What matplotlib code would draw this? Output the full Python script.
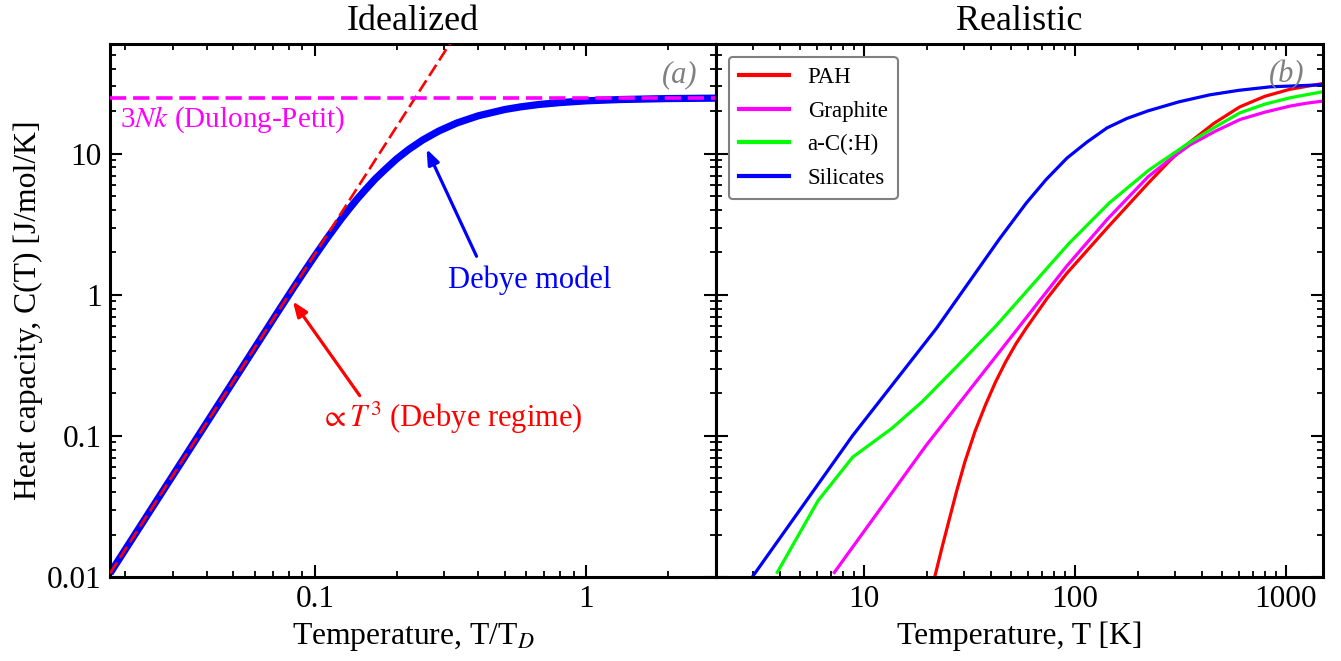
import matplotlib

matplotlib.use("Agg")
import matplotlib.pyplot as plt
from matplotlib.ticker import FuncFormatter, NullFormatter, LogLocator

plt.rcParams['font.family'] = ['Liberation Serif', 'DejaVu Serif']
plt.rcParams['mathtext.fontset'] = 'stix'

# --- Idealized panel: Debye model, C in J/mol/K against T/T_D ---
debye_t = [0.0176, 0.0667, 0.0714, 0.0769, 0.0833, 0.0909, 0.1, 0.1111, 0.125,
           0.1333, 0.1429, 0.1538, 0.1667, 0.1818, 0.2, 0.2222, 0.25, 0.2857,
           0.3333, 0.4, 0.5, 0.5714, 0.6667, 0.8, 1.0, 1.333, 2.0, 3.0]
debye_c = [0.0106, 0.576, 0.707, 0.881, 1.117, 1.439, 1.890, 2.531, 3.447,
           4.035, 4.761, 5.587, 6.624, 7.769, 9.193, 10.77, 12.55, 14.48,
           16.53, 18.60, 20.59, 21.50, 22.35, 23.07, 23.74, 24.25, 24.63, 24.80]
# low-temperature T^3 asymptote
t3_t = [0.0176, 0.32]
t3_c = [0.0106, 63.7]
dulong_petit = 24.94

# --- Realistic panel: T in K, C in J/mol/K ---
pah_t = [21.78, 23.47, 25.27, 27.63, 30.19, 33.76, 37.74, 42.18, 47.13, 52.66,
         58.85, 73.48, 91.78, 143.2, 223.4, 279.8, 347.8, 456.6, 606, 795.7,
         1044.5, 1500]
pah_c = [0.0101, 0.0159, 0.0244, 0.0408, 0.0653, 0.108, 0.1647, 0.2408, 0.3351, 0.4484,
         0.578, 0.929, 1.42, 3.0, 6.2, 8.82, 11.94, 16.42, 21.51, 25.54,
         28.64, 31.5]

graphite_t = [7.278, 19.79, 53.83, 91.78, 143.2, 223.4, 279.8, 351.6, 461.6, 606,
              795.7, 1044.5, 1243, 1500]
graphite_c = [0.01078, 0.0856, 0.578, 1.6, 3.45, 6.9, 9.03, 11.55, 14.4, 17.48,
              19.72, 21.76, 22.78, 23.65]

ach_t = [3.904, 6.094, 8.891, 13.56, 18.92, 27.65, 42.18, 60.95, 94.2, 145.6,
         225, 347.8, 461.6, 606, 795.7, 1044.5, 1500]
ach_c = [0.01078, 0.03479, 0.07079, 0.1125, 0.1742, 0.3103, 0.5971, 1.112, 2.323,
         4.47, 7.67, 11.94, 15.43, 19.50, 22.48, 24.92, 27.55]

sil_t = [2.987, 8.87, 22.14, 43.95, 58.98, 73.3, 92.1, 114.6, 142.4, 177.1, 222.6,
         312, 437.1, 599.6, 849, 1500]
sil_c = [0.0101, 0.1003, 0.578, 2.48, 4.47, 6.57, 9.34, 12.13, 15.26, 17.82, 20.15,
         23.35, 26.18, 28.18, 29.85, 30.85]

materials = [
    ('PAH', pah_t, pah_c, '#ff0000'),
    ('Graphite', graphite_t, graphite_c, '#ff00ff'),
    ('a-C(:H)', ach_t, ach_c, '#00ff00'),
    ('Silicates', sil_t, sil_c, '#0000ff'),
]

YLIM = (0.01, 60)
fmt = FuncFormatter(lambda v, p: f'{v:g}')


def style_axis(ax):
    ax.set_xscale('log')
    ax.set_yscale('log')
    ax.set_ylim(*YLIM)
    ax.tick_params(which='both', direction='in', top=True, right=True)
    ax.tick_params(which='major', length=8.5, width=1.5, labelsize=22.5, pad=6)
    ax.tick_params(which='minor', length=4.5, width=1.3)
    for s in ax.spines.values():
        s.set_linewidth(2.2)
    for axis in (ax.xaxis, ax.yaxis):
        axis.set_major_locator(LogLocator(base=10, numticks=20))
        axis.set_minor_locator(LogLocator(base=10, subs=range(2, 10), numticks=20))
        axis.set_major_formatter(fmt)
        axis.set_minor_formatter(NullFormatter())


fig = plt.figure(figsize=(13.41, 6.61), dpi=100)
ax1 = fig.add_axes([0.0820, 0.1271, 0.4519, 0.8063])
ax2 = fig.add_axes([0.5339, 0.1271, 0.4526, 0.8063])

# ---- (a) Idealized ----
style_axis(ax1)
ax1.set_xlim(0.0176, 3.0)
ax1.plot(debye_t, debye_c, color='#0000ff', lw=5.2, solid_capstyle='butt',
         solid_joinstyle='round', zorder=2)
ax1.plot(t3_t, t3_c, color='#ff0000', lw=1.9, dashes=(5, 2), zorder=3)
ax1.axhline(dulong_petit, color='#ff00ff', lw=2.6, dashes=(4.5, 1.9), zorder=4)

ax1.text(0.0165, 0.858, '3$Nk$ (Dulong-Petit)', color='#ff00ff', fontsize=21,
         ha='left', va='center', transform=ax1.transAxes)
ax1.annotate('', xy=(0.258, 10.8), xytext=(0.394, 1.877),
             arrowprops=dict(arrowstyle='-|>,head_length=0.9,head_width=0.35',
                             color='#0000ff', lw=2.3, shrinkA=0, shrinkB=0))
ax1.text(0.693, 0.557, 'Debye model', color='#0000ff', fontsize=22,
         ha='center', va='center', transform=ax1.transAxes)
ax1.annotate('', xy=(0.083, 0.90), xytext=(0.1463, 0.193),
             arrowprops=dict(arrowstyle='-|>,head_length=0.9,head_width=0.35',
                             color='#ff0000', lw=2.3, shrinkA=0, shrinkB=0))
ax1.text(0.564, 0.298, r'$\propto T^3$ (Debye regime)', color='#ff0000', fontsize=22,
         ha='center', va='center', transform=ax1.transAxes)
ax1.text(0.970, 0.942, '(a)', color='#808080', fontsize=22, style='italic',
         ha='right', va='center', transform=ax1.transAxes)

ax1.set_title('Idealized', fontsize=26, pad=10)
ax1.set_xlabel('Temperature, T/T$_{D}$', fontsize=22.8, labelpad=5)
ax1.set_ylabel('Heat capacity, C(T) [J/mol/K]', fontsize=22.8, labelpad=3)

# ---- (b) Realistic ----
style_axis(ax2)
ax2.set_xlim(2.0, 1500)
ax2.tick_params(labelleft=False)
for name, t, c, col in materials:
    ax2.plot(t, c, color=col, lw=2.3, label=name, solid_joinstyle='round')

leg = ax2.legend(loc='upper left', fontsize=16.5, handlelength=2.2, handletextpad=0.8,
                 labelspacing=0.55, borderaxespad=0.55, borderpad=0.45, fancybox=True)
leg.get_frame().set_edgecolor('#808080')
leg.get_frame().set_linewidth(1.5)
leg.get_frame().set_alpha(1)
for h in leg.get_lines():
    h.set_linewidth(3)

ax2.text(0.970, 0.942, '(b)', color='#808080', fontsize=22, style='italic',
         ha='right', va='center', transform=ax2.transAxes)
ax2.set_title('Realistic', fontsize=26, pad=10)
ax2.set_xlabel('Temperature, T [K]', fontsize=22.8, labelpad=5)

fig.savefig('out.png', dpi=100)
